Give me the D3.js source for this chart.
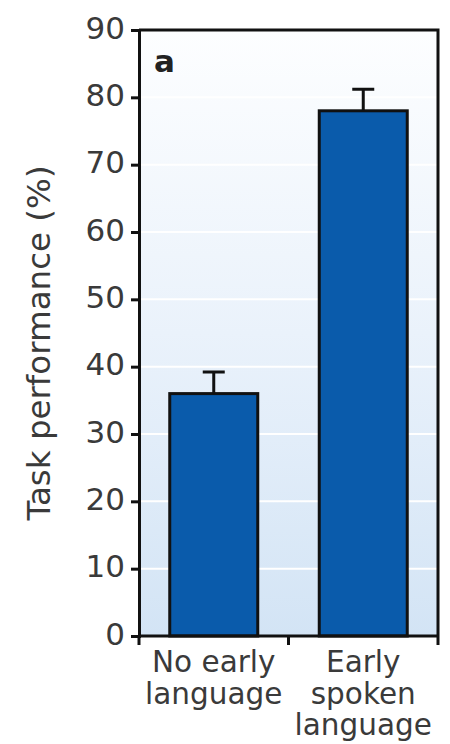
<!DOCTYPE html>
<html>
<head>
<meta charset="utf-8">
<script src="https://cdn.jsdelivr.net/npm/d3@7"></script>
<style>
  html, body { margin: 0; padding: 0; background: #fff; }
  svg { display: block; }
  text { font-family: "DejaVu Sans", "Liberation Sans", Arial, sans-serif; }
</style>
</head>
<body>
<svg id="chart" width="450" height="744"></svg>
<script>
// Task performance by early language exposure
const categories = [["No early", "language"], ["Early", "spoken", "language"]];
const means = [36, 78];
const errorTops = [39.2, 81.2];
const yTicks = [0, 10, 20, 30, 40, 50, 60, 70, 80, 90];

const W = 450, H = 744;
const margin = { top: 30, right: 12, bottom: 108, left: 139 };
const iw = W - margin.left - margin.right;
const ih = H - margin.top - margin.bottom;

const svg = d3.select("#chart");
const defs = svg.append("defs");
const grad = defs.append("linearGradient")
  .attr("id", "bg").attr("x1", 0).attr("y1", 0).attr("x2", 0).attr("y2", 1);
grad.append("stop").attr("offset", "0%").attr("stop-color", "#fdfeff");
grad.append("stop").attr("offset", "50%").attr("stop-color", "#eaf2fb");
grad.append("stop").attr("offset", "100%").attr("stop-color", "#d3e4f5");

const g = svg.append("g").attr("transform", `translate(${margin.left},${margin.top})`);

const x = d3.scaleBand().domain(d3.range(categories.length)).range([0, iw]).paddingInner(0).paddingOuter(0);
const y = d3.scaleLinear().domain([0, 90]).range([ih, 0]);

// background panel
g.append("rect").attr("x", 0).attr("y", 0).attr("width", iw).attr("height", ih)
  .attr("fill", "url(#bg)");

// white gridlines
g.selectAll(".grid").data(yTicks.slice(1, -1)).enter().append("line")
  .attr("x1", 0).attr("x2", iw)
  .attr("y1", d => y(d)).attr("y2", d => y(d))
  .attr("stroke", "#ffffff").attr("stroke-width", 2);

// bars
const barW = 88;
g.selectAll(".bar").data(means).enter().append("rect")
  .attr("x", (d, i) => x(i) + x.bandwidth() / 2 - barW / 2)
  .attr("y", d => y(d))
  .attr("width", barW)
  .attr("height", d => y(0) - y(d))
  .attr("fill", "#0a5bab")
  .attr("stroke", "#111").attr("stroke-width", 3);

// error bars
g.selectAll(".err").data(errorTops).enter().append("path")
  .attr("d", (d, i) => {
    const cx = x(i) + x.bandwidth() / 2;
    return `M${cx},${y(means[i])}V${y(d)}M${cx - 11},${y(d)}H${cx + 11}`;
  })
  .attr("stroke", "#111").attr("stroke-width", 3).attr("fill", "none");

// frame: top and right
g.append("path").attr("d", `M0,0H${iw}V${ih}`)
  .attr("stroke", "#111").attr("stroke-width", 3).attr("fill", "none");

// y axis
const yAxis = g.append("g").call(
  d3.axisLeft(y).tickValues(yTicks).tickSize(8).tickPadding(6)
);
yAxis.select(".domain").attr("stroke", "#111").attr("stroke-width", 3);
yAxis.selectAll(".tick line").attr("stroke", "#111").attr("stroke-width", 3);
yAxis.selectAll(".tick text").attr("font-size", 31).attr("fill", "#3a3a3a")
  .attr("dy", "0.26em").attr("font-family", "DejaVu Sans");

// x axis with ticks at category boundaries
const xAxis = g.append("g").attr("transform", `translate(0,${ih})`);
xAxis.append("line").attr("x1", 0).attr("x2", iw).attr("stroke", "#111").attr("stroke-width", 3);
const bounds = [0, ...d3.range(categories.length).map(i => x(i) + x.bandwidth())];
xAxis.selectAll(".xt").data(bounds).enter().append("line")
  .attr("x1", d => d).attr("x2", d => d).attr("y1", 0).attr("y2", 9)
  .attr("stroke", "#111").attr("stroke-width", 3);

categories.forEach((lines, i) => {
  const cx = x(i) + x.bandwidth() / 2;
  const t = xAxis.append("text")
    .attr("x", cx)
    .attr("y", 36)
    .attr("text-anchor", "middle")
    .attr("font-size", 29.5).attr("fill", "#3a3a3a");
  lines.forEach((ln, j) => {
    t.append("tspan").attr("x", cx).attr("dy", j === 0 ? 0 : 31.5).text(ln);
  });
});

// y axis title
svg.append("text")
  .attr("transform", `translate(50,343) rotate(-90)`)
  .attr("text-anchor", "middle")
  .attr("font-size", 32.5).attr("fill", "#3a3a3a")
  .text("Task performance (%)");

// panel letter
g.append("text").attr("x", 15).attr("y", 42)
  .attr("font-size", 31).attr("font-weight", "bold").attr("fill", "#222")
  .attr("font-family", "Liberation Sans")
  .text("a");
</script>
</body>
</html>
